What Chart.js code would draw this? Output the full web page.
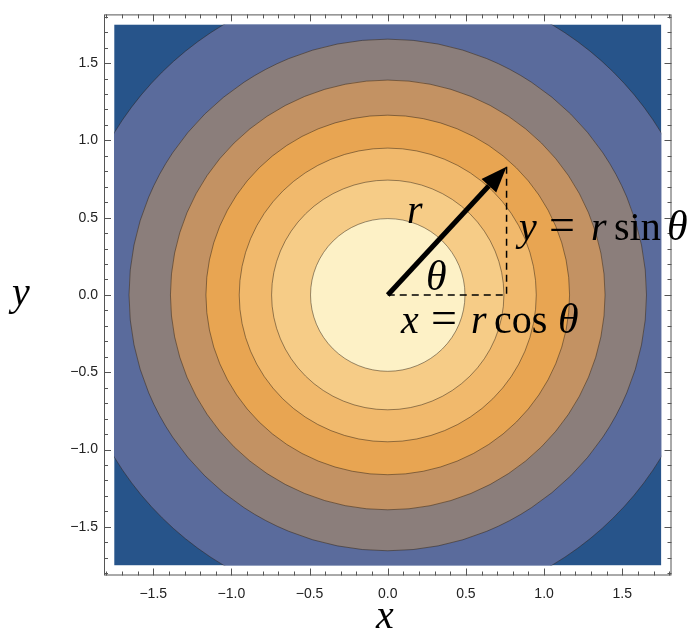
<!DOCTYPE html>
<html>
<head>
<meta charset="utf-8">
<script src="https://cdn.jsdelivr.net/npm/chart.js@4/dist/chart.umd.min.js"></script>
<style>
  body { margin: 0; background: #fff; }
  canvas { display: block; }
</style>
</head>
<body>
<canvas id="chart" width="695" height="636"></canvas>
<script>
// contour bands, outermost first (radius where the band ends)
const levelRadii = [2.04, 1.655, 1.39, 1.163, 0.95, 0.743, 0.494];
const levelColors = ['#5a6b9c', '#8b7e7b', '#c39263', '#e8a552', '#f1b96c', '#f6cc87', '#fdf1c6'];
const cornerColor = '#27548a';
const fillExtent = 1.75;
const axisExtent = 1.815;

const majorTicks = [-1.5, -1.0, -0.5, 0.0, 0.5, 1.0, 1.5];
const minorTicks = [-1.8, -1.7, -1.6, -1.4, -1.3, -1.2, -1.1, -0.9, -0.8, -0.7, -0.6, -0.4, -0.3, -0.2, -0.1,
  0.1, 0.2, 0.3, 0.4, 0.6, 0.7, 0.8, 0.9, 1.1, 1.2, 1.3, 1.4, 1.6, 1.7, 1.8];

// the polar vector drawn on top
const vecTip = { x: 0.76, y: 0.83 };

const mathFont = '"Liberation Serif", "DejaVu Serif", serif';

// parts: text, italic?, offset from start (px), own size
function drawMath(ctx, parts, x, y, size) {
  parts.forEach(p => {
    ctx.font = (p.it ? 'italic ' : '') + (p.size || size) + 'px ' + mathFont;
    ctx.fillText(p.t, x + (p.dx || 0), y);
  });
}

const contourPlugin = {
  id: 'contours',
  beforeDatasetsDraw(chart) {
    const { ctx, scales: { x, y } } = chart;
    const x0 = x.getPixelForValue(-fillExtent), x1 = x.getPixelForValue(fillExtent);
    const y0 = y.getPixelForValue(fillExtent), y1 = y.getPixelForValue(-fillExtent);
    ctx.save();
    ctx.beginPath();
    ctx.rect(x0, y0, x1 - x0, y1 - y0);
    ctx.clip();
    ctx.fillStyle = cornerColor;
    ctx.fillRect(x0, y0, x1 - x0, y1 - y0);
    const cx = x.getPixelForValue(0), cy = y.getPixelForValue(0);
    levelRadii.forEach((r, i) => {
      const rx = x.getPixelForValue(r) - cx;
      const ry = cy - y.getPixelForValue(r);
      ctx.beginPath();
      ctx.ellipse(cx, cy, rx, ry, 0, 0, 2 * Math.PI);
      ctx.fillStyle = levelColors[i];
      ctx.fill();
      ctx.lineWidth = 0.8;
      ctx.strokeStyle = 'rgba(40,30,20,0.6)';
      ctx.stroke();
    });
    ctx.restore();
  },
  afterDatasetsDraw(chart) {
    const { ctx, chartArea: a, scales: { x, y } } = chart;
    ctx.save();

    // frame + inward ticks
    ctx.strokeStyle = '#555';
    ctx.lineWidth = 1;
    ctx.strokeRect(a.left + 0.5, a.top + 0.5, a.right - a.left - 1, a.bottom - a.top - 1);
    const tick = (v, len) => {
      const px = Math.round(x.getPixelForValue(v)) + 0.5;
      const py = Math.round(y.getPixelForValue(v)) + 0.5;
      ctx.beginPath();
      ctx.moveTo(px, a.bottom); ctx.lineTo(px, a.bottom - len);
      ctx.moveTo(px, a.top); ctx.lineTo(px, a.top + len);
      ctx.moveTo(a.left, py); ctx.lineTo(a.left + len, py);
      ctx.moveTo(a.right, py); ctx.lineTo(a.right - len, py);
      ctx.stroke();
    };
    majorTicks.forEach(v => tick(v, 7));
    minorTicks.forEach(v => tick(v, 4));

    // dashed legs
    const ox = x.getPixelForValue(0), oy = y.getPixelForValue(0);
    const tx = x.getPixelForValue(vecTip.x), ty = y.getPixelForValue(vecTip.y);
    ctx.strokeStyle = '#000';
    ctx.lineWidth = 1.5;
    ctx.setLineDash([7, 5]);
    ctx.beginPath();
    ctx.moveTo(ox, oy); ctx.lineTo(tx, oy); ctx.lineTo(tx, ty);
    ctx.stroke();
    ctx.setLineDash([]);

    // arrow
    const ang = Math.atan2(ty - oy, tx - ox);
    const head = 26, half = 10;
    const bx = tx - head * Math.cos(ang), by = ty - head * Math.sin(ang);
    ctx.lineWidth = 5;
    ctx.beginPath();
    ctx.moveTo(ox, oy); ctx.lineTo(bx, by);
    ctx.stroke();
    ctx.fillStyle = '#000';
    ctx.beginPath();
    ctx.moveTo(tx, ty);
    ctx.lineTo(bx + half * Math.sin(ang), by - half * Math.cos(ang));
    ctx.lineTo(bx - half * Math.sin(ang), by + half * Math.cos(ang));
    ctx.closePath();
    ctx.fill();

    // labels
    ctx.fillStyle = '#000';
    ctx.textBaseline = 'alphabetic';
    ctx.textAlign = 'left';
    drawMath(ctx, [{ t: 'r', it: true }], 407, 223, 40);
    drawMath(ctx, [{ t: 'θ', it: true }], 426, 290, 42);
    drawMath(ctx, [
      { t: 'y', it: true }, { t: '=', dx: 30, size: 46 }, { t: 'r', it: true, dx: 72 },
      { t: 'sin', dx: 95 }, { t: 'θ', it: true, dx: 148, size: 42 }
    ], 519, 240, 40);
    drawMath(ctx, [
      { t: 'x', it: true }, { t: '=', dx: 30, size: 46 }, { t: 'r', it: true, dx: 70 },
      { t: 'cos', dx: 93 }, { t: 'θ', it: true, dx: 157, size: 42 }
    ], 401, 333, 40);
    ctx.restore();
  },
  afterDraw(chart) {
    const { ctx } = chart;
    ctx.save();
    ctx.fillStyle = '#000';
    ctx.textAlign = 'center';
    ctx.textBaseline = 'alphabetic';
    ctx.font = 'italic 40px ' + mathFont;
    ctx.fillText('x', 385, 628);
    ctx.fillText('y', 21, 305);
    ctx.restore();
  }
};

const fmt = v => (v < 0 ? '\u2212' : '') + Math.abs(v).toFixed(1);
const tickFont = { family: '"Liberation Sans", Arial, sans-serif', size: 14 };

new Chart(document.getElementById('chart'), {
  type: 'scatter',
  data: { datasets: [{ data: [], showLine: false }] },
  options: {
    responsive: false,
    animation: false,
    layout: { padding: { top: 9.3, right: 23.5, left: 0, bottom: 0 } },
    plugins: { legend: { display: false }, tooltip: { enabled: false } },
    scales: {
      x: {
        type: 'linear', min: -axisExtent, max: axisExtent,
        grid: { display: false, drawTicks: false }, border: { display: false },
        afterBuildTicks: s => { s.ticks = majorTicks.map(v => ({ value: v })); },
        afterFit: s => { s.height = 60.5; },
        ticks: { padding: 10, color: '#222', font: tickFont, callback: fmt, maxRotation: 0 }
      },
      y: {
        type: 'linear', min: -axisExtent, max: axisExtent,
        grid: { display: false, drawTicks: false }, border: { display: false },
        afterBuildTicks: s => { s.ticks = majorTicks.map(v => ({ value: v })); },
        afterFit: s => { s.width = 104; },
        ticks: { padding: 6, color: '#222', font: tickFont, callback: fmt }
      }
    }
  },
  plugins: [contourPlugin]
});
</script>
</body>
</html>
